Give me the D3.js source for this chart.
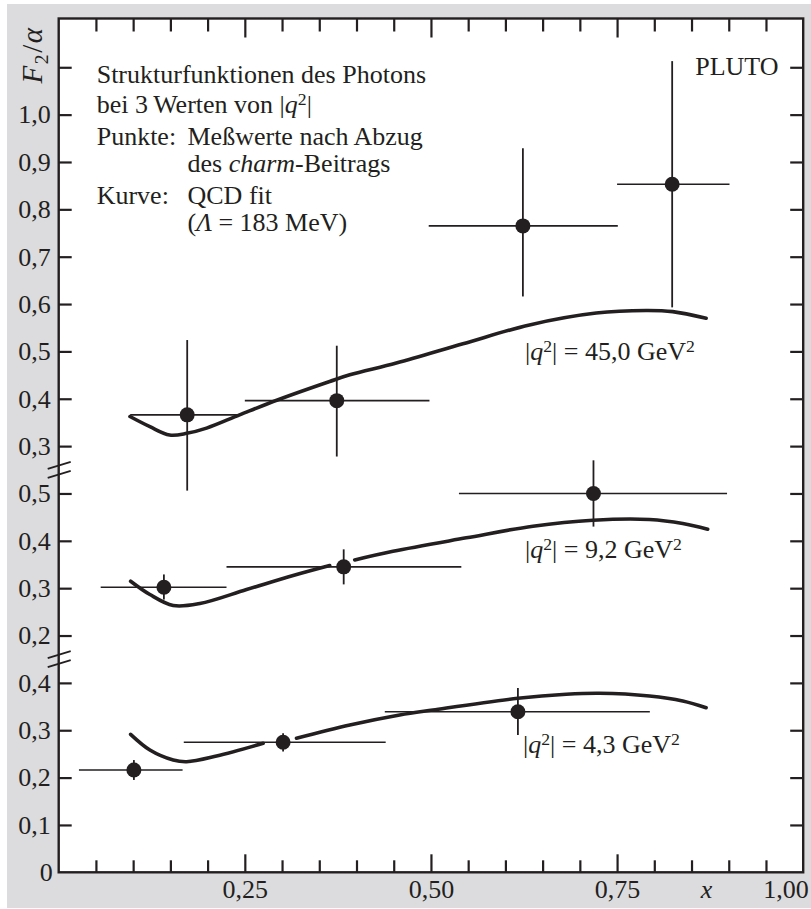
<!DOCTYPE html>
<html>
<head>
<meta charset="utf-8">
<script src="https://cdn.jsdelivr.net/npm/d3@7"></script>
<style>
  body { margin: 0; background: #fff; }
  text { font-family: "Liberation Serif", "DejaVu Serif", serif; fill: #231f20; }
</style>
</head>
<body>
<svg id="chart" width="811" height="909"></svg>
<script>
// ---- x axis ----
const xMajorTicks = [0.25, 0.5, 0.75, 1.0];
const xMajorLabels = ["0,25", "0,50", "0,75", "1,00"];
const xMinorTicks = [0.05, 0.1, 0.15, 0.2, 0.3, 0.35, 0.4, 0.45, 0.55, 0.6, 0.65, 0.7, 0.8, 0.85, 0.9, 0.95];

// ---- broken y axis: three stacked panels, each shifted by its offset ----
const panelOffsets = { q43: 0.0, q92: 0.3, q45: 0.6 };
const yTicksQ43 = [0, 0.1, 0.2, 0.3, 0.4];
const yLabelsQ43 = ["0", "0,1", "0,2", "0,3", "0,4"];
const yTicksQ92 = [0.2, 0.3, 0.4, 0.5];
const yLabelsQ92 = ["0,2", "0,3", "0,4", "0,5"];
const yTicksQ45 = [0.3, 0.4, 0.5, 0.6, 0.7, 0.8, 0.9, 1.0, 1.1];
const yLabelsQ45 = ["0,3", "0,4", "0,5", "0,6", "0,7", "0,8", "0,9", "1,0", ""];
const axisBreaks = [0.45, 0.85];   // stacked positions of the // marks

// ---- measurements: x, F2/alpha, x-bin range, error range ----
const q45Points = [
  { x: 0.1726, y: 0.366, xlo: 0.096, xhi: 0.244, ylo: 0.206, yhi: 0.524 },
  { x: 0.3735, y: 0.396, xlo: 0.250, xhi: 0.498, ylo: 0.278, yhi: 0.512 },
  { x: 0.6235, y: 0.765, xlo: 0.497, xhi: 0.751, ylo: 0.616, yhi: 0.929 },
  { x: 0.8240, y: 0.853, xlo: 0.750, xhi: 0.901, ylo: 0.593, yhi: 1.113 }
];
const q92Points = [
  { x: 0.1413, y: 0.302, xlo: 0.0564, xhi: 0.2254, ylo: 0.276, yhi: 0.329 },
  { x: 0.3828, y: 0.345, xlo: 0.2254, xhi: 0.5408, ylo: 0.308, yhi: 0.382 },
  { x: 0.7183, y: 0.500, xlo: 0.5376, xhi: 0.8977, ylo: 0.430, yhi: 0.570 }
];
const q43Points = [
  { x: 0.1010, y: 0.216, xlo: 0.0272, xhi: 0.1664, ylo: 0.195, yhi: 0.237 },
  { x: 0.3014, y: 0.2745, xlo: 0.168, xhi: 0.4392, ylo: 0.255, yhi: 0.2935 },
  { x: 0.6168, y: 0.339, xlo: 0.438, xhi: 0.794, ylo: 0.290, yhi: 0.389 }
];

// ---- QCD fit curves [x, F2/alpha]; null = pen lifted ----
const q45Curve = [[0.0957, 0.3625], [0.1225, 0.341], [0.149, 0.3235], [0.172, 0.327], [0.1986, 0.338],
  [0.243, 0.366], [0.2947, 0.398], [0.364, 0.4365], [0.391, 0.4506], [0.4535, 0.4755], [0.543, 0.516],
  [0.6324, 0.556], [0.722, 0.581], [0.789, 0.5864], [0.8247, 0.584], [0.8696, 0.570]];
const q92Curve = [[0.0966, 0.3147], [0.1225, 0.2866], [0.1538, 0.2634], [0.1896, 0.2676], [0.2523, 0.297],
  [0.3149, 0.3267], [0.364, 0.3478], null, [0.3976, 0.3597], [0.449, 0.378], [0.5475, 0.4063],
  [0.637, 0.4309], [0.7176, 0.4435], [0.7935, 0.445], [0.8382, 0.4366], [0.8717, 0.4245]];
const q43Curve = [[0.0966, 0.2914], [0.1225, 0.2583], [0.1538, 0.2372], [0.1718, 0.2336], [0.212, 0.2456],
  [0.2746, 0.2724], null, [0.3194, 0.283], [0.391, 0.311], [0.458, 0.3322], [0.5027, 0.3428],
  [0.6168, 0.3675], [0.6817, 0.3759], [0.7264, 0.378], [0.7935, 0.3723], [0.8382, 0.3618], [0.8696, 0.3476]];

// ---- layout ----
const svg = d3.select("#chart");
const x = d3.scaleLinear().domain([0, 1]).range([58.7, 803.2]);
const y = d3.scaleLinear().domain([0, 1.803]).range([872.3, 18.5]);
const FS = 26;
const ink = "#231f20";

// page background and white plotting field
svg.append("rect").attr("x", 7).attr("y", 4).attr("width", 804).attr("height", 904).attr("fill", "#dcdcde");
svg.append("rect").attr("x", x(0)).attr("y", y(1.803)).attr("width", x(1) - x(0)).attr("height", y(0) - y(1.803))
  .attr("fill", "#fff");

// y ticks in stacked coordinates
const yTickPos = [], yTickText = new Map();
[[yTicksQ43, yLabelsQ43, panelOffsets.q43], [yTicksQ92, yLabelsQ92, panelOffsets.q92], [yTicksQ45, yLabelsQ45, panelOffsets.q45]]
  .forEach(([ticks, labels, off]) => ticks.forEach((t, i) => {
    const p = +(t + off).toFixed(4);
    yTickPos.push(p); yTickText.set(p, labels[i]);
  }));

function styleAxis(g) {
  g.select(".domain").remove();
  g.selectAll(".tick line").attr("stroke", ink).attr("stroke-width", 2.2);
  g.selectAll(".tick text").attr("font-size", FS).attr("font-family", "Liberation Serif").attr("fill", ink);
}

// left axis, ticks pointing inwards
svg.append("g").attr("transform", `translate(${x(0)},0)`)
  .call(d3.axisLeft(y).tickValues(yTickPos.filter(p => p > 0)).tickSizeInner(-13).tickSizeOuter(0).tickPadding(8)
    .tickFormat(p => yTickText.get(+p.toFixed(4))))
  .call(styleAxis);
// zero label at the corner
svg.append("g").attr("transform", `translate(${x(0)},0)`)
  .call(d3.axisLeft(y).tickValues([0]).tickSizeInner(0).tickSizeOuter(0).tickPadding(6).tickFormat(() => yLabelsQ43[0]))
  .call(styleAxis);

// right axis, ticks only
svg.append("g").attr("transform", `translate(${x(1)},0)`)
  .call(d3.axisRight(y).tickValues(yTickPos.filter(p => p > 0)).tickSizeInner(-13).tickSizeOuter(0).tickFormat(""))
  .call(styleAxis);

// bottom axis: minor and major ticks
svg.append("g").attr("transform", `translate(0,${y(0)})`)
  .call(d3.axisBottom(x).tickValues(xMinorTicks).tickSizeInner(-12).tickSizeOuter(0).tickFormat(""))
  .call(styleAxis);
const bottomMajor = svg.append("g").attr("transform", `translate(0,${y(0)})`)
  .call(d3.axisBottom(x).tickValues(xMajorTicks).tickSizeInner(-18).tickSizeOuter(0).tickPadding(7)
    .tickFormat((d, i) => xMajorLabels[i]))
  .call(styleAxis);
bottomMajor.selectAll(".tick").filter(d => d === 1).select("line").remove();
bottomMajor.selectAll(".tick").filter(d => d === 1).select("text").attr("text-anchor", "end").attr("x", 5);

// top axis
svg.append("g").attr("transform", `translate(0,${y(1.803)})`)
  .call(d3.axisTop(x).tickValues(xMinorTicks).tickSizeInner(-13).tickSizeOuter(0).tickFormat(""))
  .call(styleAxis);
svg.append("g").attr("transform", `translate(0,${y(1.803)})`)
  .call(d3.axisTop(x).tickValues(xMajorTicks.filter(d => d < 1)).tickSizeInner(-19).tickSizeOuter(0).tickFormat(""))
  .call(styleAxis);

// frame
svg.append("rect").attr("x", x(0)).attr("y", y(1.803)).attr("width", x(1) - x(0)).attr("height", y(0) - y(1.803))
  .attr("fill", "none").attr("stroke", ink).attr("stroke-width", 2.4);

// axis break marks
axisBreaks.forEach(b => {
  [-4.5, 4.5].forEach(dy => {
    svg.append("line")
      .attr("x1", x(0) - 11).attr("y1", y(b) + dy + 3.5)
      .attr("x2", x(0) + 12).attr("y2", y(b) + dy - 3.5)
      .attr("stroke", ink).attr("stroke-width", 1.8);
  });
});

// curves and data for each panel
const line = d3.line().defined(d => d !== null).curve(d3.curveCatmullRom.alpha(0.5));
function drawPanel(curve, points, off) {
  svg.append("path")
    .datum(curve)
    .attr("d", line.x(d => x(d[0])).y(d => y(d[1] + off)))
    .attr("fill", "none").attr("stroke", ink).attr("stroke-width", 3.6).attr("stroke-linecap", "round");
  const g = svg.append("g");
  g.selectAll(".eh").data(points).join("line")
    .attr("x1", d => x(d.xlo)).attr("x2", d => x(d.xhi))
    .attr("y1", d => y(d.y + off)).attr("y2", d => y(d.y + off))
    .attr("stroke", ink).attr("stroke-width", 1.6);
  g.selectAll(".ev").data(points).join("line")
    .attr("x1", d => x(d.x)).attr("x2", d => x(d.x))
    .attr("y1", d => y(d.ylo + off)).attr("y2", d => y(d.yhi + off))
    .attr("stroke", ink).attr("stroke-width", 1.8);
  g.selectAll("circle").data(points).join("circle")
    .attr("cx", d => x(d.x)).attr("cy", d => y(d.y + off)).attr("r", 7.5)
    .attr("fill", ink);
}
drawPanel(q45Curve, q45Points, panelOffsets.q45);
drawPanel(q92Curve, q92Points, panelOffsets.q92);
drawPanel(q43Curve, q43Points, panelOffsets.q43);

// rich text helper: parts = [text, style] with style in {"", "i", "sup", "sub"}
function richText(px, py, parts, opts = {}) {
  const fs = opts.size || FS;
  const t = svg.append("text").attr("x", px).attr("y", py).attr("font-size", fs)
    .attr("text-anchor", opts.anchor || "start");
  if (opts.transform) t.attr("transform", opts.transform);
  if (opts.spacing) t.attr("letter-spacing", opts.spacing);
  parts.forEach(([s, st]) => {
    const sp = t.append("tspan").text(s);
    if (st === "i") sp.attr("font-style", "italic");
    if (st === "sup") sp.attr("font-size", fs * 0.68).attr("baseline-shift", 8.5);
    if (st === "sub") sp.attr("font-size", fs * 0.68).attr("baseline-shift", -6);
  });
  return t;
}

// description block
const colA = 96.7, colB = 187.5;
richText(colA, 82.5, [["Strukturfunktionen des Photons", ""]]);
richText(colA, 112.5, [["bei 3\u2009Werten von |", ""], ["q", "i"], ["2", "sup"], ["|", ""]]);
richText(colA, 145, [["Punkte:", ""]]);
richText(colB, 145, [["Meßwerte nach Abzug", ""]]);
richText(colB, 172, [["des ", ""], ["charm", "i"], ["-Beitrags", ""]]);
richText(colA, 204, [["Kurve:", ""]]);
richText(colB, 204, [["QCD fit", ""]]);
richText(colB, 231, [["(", ""], ["\u039B", "i"], [" = 183 MeV)", ""]]);
richText(778.5, 75, [["PLUTO", ""]], { anchor: "end" });

// panel labels
richText(525, 360, [["|", ""], ["q", "i"], ["2", "sup"], ["| = 45,0 GeV", ""], ["2", "sup"]]);
richText(525, 558, [["|", ""], ["q", "i"], ["2", "sup"], ["| = 9,2 GeV", ""], ["2", "sup"]]);
richText(523, 753, [["|", ""], ["q", "i"], ["2", "sup"], ["| = 4,3 GeV", ""], ["2", "sup"]]);

// axis titles
richText(0, 0, [["F", "i"], ["2", "sub"], ["/", ""], ["\u03B1", "i"]],
  { anchor: "middle", size: 29, spacing: 1.5, transform: "translate(42,55) rotate(-90)" });
richText(x(0.87), 898, [["x", "i"]], { anchor: "middle" });
</script>
</body>
</html>
